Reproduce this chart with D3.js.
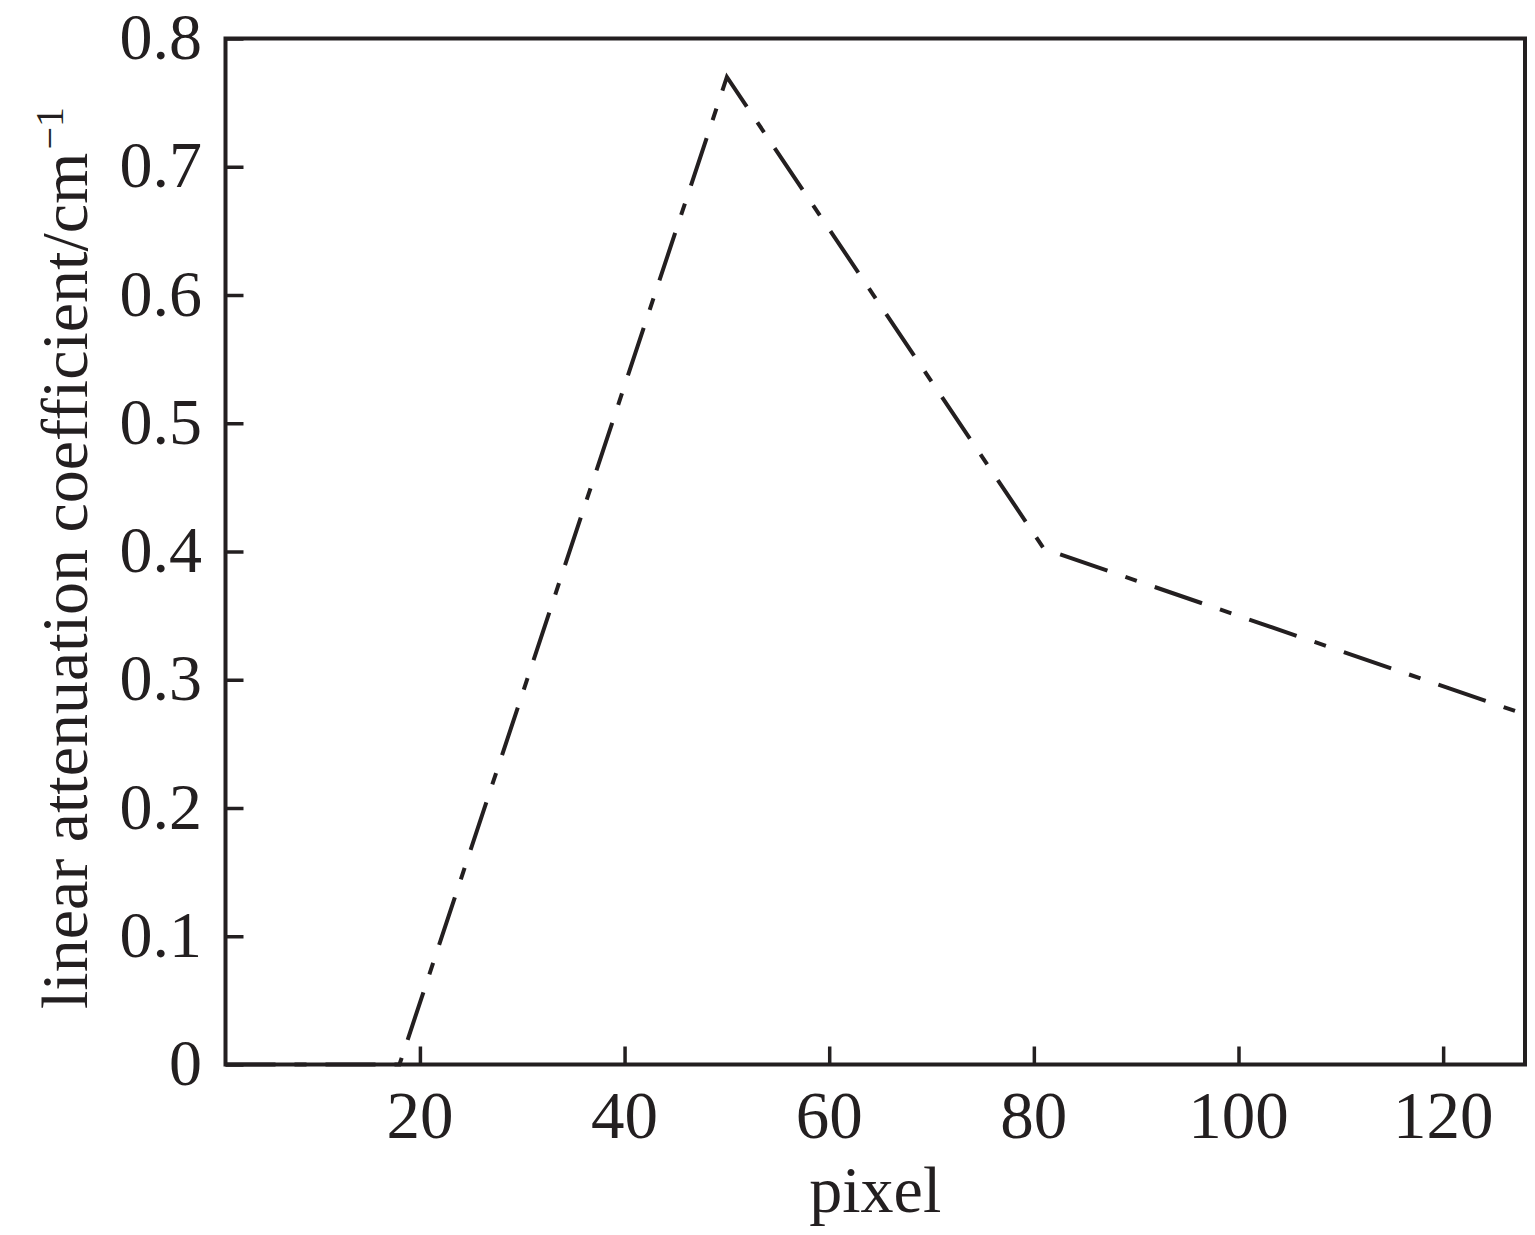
<!DOCTYPE html>
<html>
<head>
<meta charset="utf-8">
<script src="https://cdn.jsdelivr.net/npm/d3@7"></script>
<style>
  html, body { margin: 0; padding: 0; background: #fff; }
  svg text { font-family: "Liberation Serif", "Times New Roman", serif; fill: #231f20; }
</style>
</head>
<body>
<svg id="chart" width="1535" height="1235"></svg>
<script>
// ---- data ----
const pixels = [1, 18, 50, 81, 128];
const attenuation = [0, 0, 0.77, 0.402, 0.273];
const xTicks = [20, 40, 60, 80, 100, 120];
const yTicks = [0, 0.1, 0.2, 0.3, 0.4, 0.5, 0.6, 0.7, 0.8];
const xTitle = "pixel";
const yTitle = "linear attenuation coefficient/cm";
const yTitleSup = "\u22121";

// ---- layout ----
const W = 1535, H = 1235;
const m = { left: 225.5, right: 10, top: 38.5, bottom: 170.5 };
const ink = "#231f20";
const fs = 66;

const svg = d3.select("#chart");
const x = d3.scaleLinear().domain([1, 128]).range([m.left, W - m.right]);
const y = d3.scaleLinear().domain([0, 0.8]).range([H - m.bottom, m.top]);

// axes (tick lines inward)
const gx = svg.append("g")
  .attr("transform", `translate(0,${H - m.bottom})`)
  .call(d3.axisBottom(x).tickValues(xTicks).tickSizeInner(-18).tickSizeOuter(0).tickFormat(""));
const gy = svg.append("g")
  .attr("transform", `translate(${m.left},0)`)
  .call(d3.axisLeft(y).tickValues(yTicks).tickSizeInner(-18).tickSizeOuter(0).tickFormat(""));
[gx, gy].forEach(g => {
  g.select(".domain").remove();
  g.selectAll(".tick line").attr("stroke", ink).attr("stroke-width", 3.5);
  g.selectAll(".tick text").remove();
});

// frame
svg.append("rect")
  .attr("x", x.range()[0]).attr("y", y.range()[1])
  .attr("width", x.range()[1] - x.range()[0])
  .attr("height", y.range()[0] - y.range()[1])
  .attr("fill", "none").attr("stroke", ink).attr("stroke-width", 4);

// tick labels
svg.append("g").selectAll("text").data(xTicks).join("text")
  .attr("x", d => x(d))
  .attr("y", 1138)
  .attr("text-anchor", "middle")
  .attr("font-size", 67)
  .text(d => d);

svg.append("g").selectAll("text").data(yTicks).join("text")
  .attr("x", 202)
  .attr("y", d => y(d) + 20.5)
  .attr("text-anchor", "end")
  .attr("font-size", fs)
  .text(d => d === 0 ? "0" : d3.format(".1f")(d));

// axis titles
svg.append("text")
  .attr("x", (x.range()[0] + x.range()[1]) / 2)
  .attr("y", 1212)
  .attr("text-anchor", "middle")
  .attr("font-size", 66)
  .text(xTitle);

const yt = svg.append("text")
  .attr("transform", "translate(87,1009) rotate(-90)")
  .attr("text-anchor", "start")
  .attr("font-size", 66);
yt.append("tspan").text(yTitle);
yt.append("tspan").attr("font-size", 40).attr("dx", 3).attr("dy", -24).text(yTitleSup);

// data line
const pts = pixels.map((p, i) => [p, attenuation[i]]);
svg.append("path")
  .datum(pts)
  .attr("d", d3.line().x(d => x(d[0])).y(d => y(d[1])))
  .attr("fill", "none")
  .attr("stroke", ink)
  .attr("stroke-width", 4)
  .attr("stroke-dasharray", "50,19,12,19")
  .attr("stroke-linejoin", "miter");
</script>
</body>
</html>
